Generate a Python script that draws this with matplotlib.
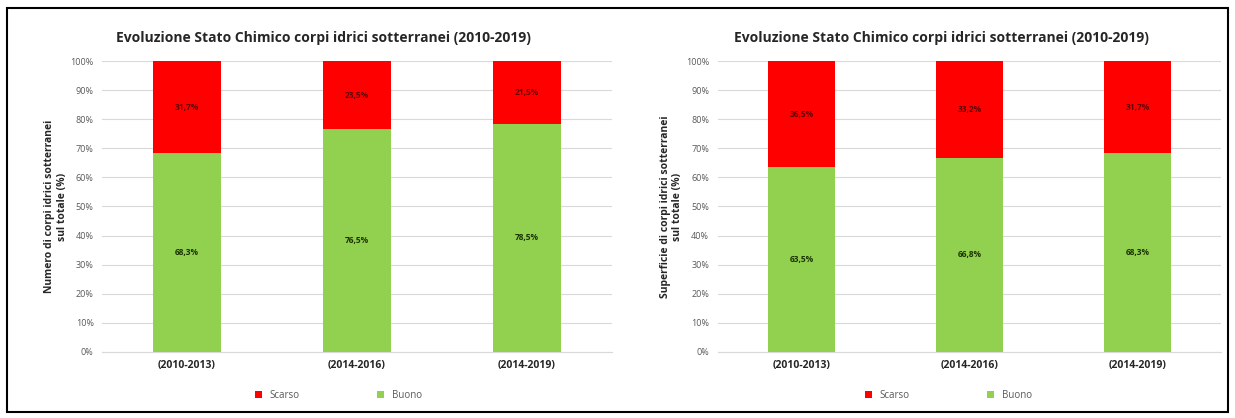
import numpy as np
import matplotlib.pyplot as plt
from matplotlib.patches import Rectangle

periodi = ["(2010-2013)", "(2014-2016)", "(2014-2019)"]
buono_num = [68.3, 76.5, 78.5]
scarso_num = [31.7, 23.5, 21.5]
buono_sup = [63.5, 66.8, 68.3]
scarso_sup = [36.5, 33.2, 31.7]

titolo = "Evoluzione Stato Chimico corpi idrici sotterranei (2010-2019)"
ylab_num = "Numero di corpi idrici sotterranei\nsul totale (%)"
ylab_sup = "Superficie di corpi idrici sotterranei\nsul totale (%)"

plt.rcParams['font.family'] = ['Open Sans', 'DejaVu Sans']
VERDE = '#92d050'
ROSSO = '#ff0000'

fig = plt.figure(figsize=(12.35, 4.18), dpi=100)
fig.patches.append(Rectangle((0.006, 0.015), 0.988, 0.965, transform=fig.transFigure,
                             fill=False, edgecolor='black', linewidth=1.5))


def grafico(ax, buono, scarso, ylab, xc, xleg):
    x = np.arange(len(periodi))
    ax.bar(x, buono, width=0.4, color=VERDE, label='Buono', zorder=3)
    ax.bar(x, scarso, width=0.4, bottom=buono, color=ROSSO, label='Scarso', zorder=3)
    for i in range(len(x)):
        ax.text(x[i], buono[i] / 2, f"{buono[i]:.1f}%".replace('.', ','), ha='center',
                va='center', fontsize=6, fontweight='bold', color='#1a3300', zorder=4)
        ax.text(x[i], buono[i] + scarso[i] / 2, f"{scarso[i]:.1f}%".replace('.', ','),
                ha='center', va='center', fontsize=6, fontweight='bold', color='#600000', zorder=4)
    ax.set_xlim(-0.5, 2.5)
    ax.set_ylim(0, 100)
    ax.set_yticks(np.arange(0, 101, 10))
    ax.set_yticklabels([f"{v}%" for v in range(0, 101, 10)], fontsize=6.5, color='#595959')
    ax.set_xticks(x)
    ax.set_xticklabels(periodi, fontsize=7.5, fontweight='bold', color='#262626')
    ax.grid(axis='y', color='#d9d9d9', linewidth=0.8, zorder=0)
    for s in ['top', 'right', 'left']:
        ax.spines[s].set_visible(False)
    ax.spines['bottom'].set_color('#d9d9d9')
    ax.tick_params(length=0, pad=6)
    ax.set_ylabel(ylab, fontsize=7.5, fontweight='bold', color='#262626', labelpad=2)
    fig.text(xc, 0.91, titolo, ha='center', va='center', fontsize=10, fontweight='bold', color='#262626')
    h, l = ax.get_legend_handles_labels()
    fig.legend([h[1], h[0]], [l[1], l[0]], loc='center', bbox_to_anchor=(xleg, 0.055), ncol=2,
               frameon=False, fontsize=7, handlelength=0.7, handleheight=0.7, columnspacing=8,
               labelcolor='#595959')


ax1 = fig.add_axes([0.0826, 0.158, 0.413, 0.696])
grafico(ax1, buono_num, scarso_num, ylab_num, 0.262, 0.274)
ax2 = fig.add_axes([0.581, 0.158, 0.408, 0.696])
grafico(ax2, buono_sup, scarso_sup, ylab_sup, 0.762, 0.768)

fig.savefig('out.png', dpi=100)
